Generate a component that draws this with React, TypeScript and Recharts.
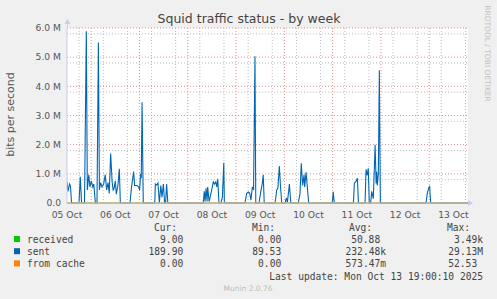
import { LineChart, Line, XAxis, YAxis, CartesianGrid } from "recharts"

// hours since 05 Oct 00:00, and sent traffic in Mbit/s
const hours = [
  0, 0.5, 1.24, 1.74, 2.24, 5.96, 6.6, 7.2, 7.45, 8.7, 9.6, 10.1, 10.8, 11.4, 12.1, 12.8, 13.3, 14.1, 14.9,
  15.6, 16.1, 16.7, 17.4, 18.2, 19.0, 19.7, 20.4, 21.0, 21.7, 22.4, 22.9, 23.4, 24.0, 24.5, 25.3, 26.0, 26.5,
  31.3, 32.0, 33.1, 33.6, 34.8, 35.6, 36.1, 36.6, 36.9, 37.3, 37.9,
  43.6, 43.9, 44.6, 45.2, 45.9, 46.6, 47.2, 47.9, 48.5, 49.0, 49.5, 50.1,
  67.7, 68.2, 68.6, 69.1, 69.6, 69.9, 70.6, 71.1, 71.9, 72.7, 73.2, 73.9, 74.4, 74.9, 75.5, 76.5, 77.2, 77.9, 78.2,
  88.4, 89.3, 90.1, 90.8, 91.4, 92.1, 92.7, 93.4, 93.8, 95.4, 96.3, 97.0, 97.5, 98.0,
  103.4, 104.2, 104.8, 105.5, 106.1, 106.7, 108.4, 109.0, 109.5, 110.2, 110.5, 111.2,
  114.9, 115.8, 116.4, 117.1, 117.8, 118.1, 118.8, 119.4, 120.1,
  131.8, 132.3, 132.8, 142.3, 142.8, 143.6, 144.3, 144.8,
  148.1, 148.6, 149.2, 149.7, 150.2, 150.9, 151.4, 152.2, 153.1, 153.6, 153.9, 154.2, 154.7, 155.2, 155.7,
  178.4, 179.0, 179.7, 180.2, 180.7, 199.25,
]
const sent = [
  0.73, 0.4, 0.65, 0.58, 0, 0, 0.9, 0.05, 0, 0, 5.89, 0.45, 0.97, 0.55, 0.75, 0.55, 0.65, 0, 0,
  5.5, 0.45, 0.7, 0.55, 0.65, 0.97, 0.45, 0.7, 0.33, 1.7, 0.75, 0.45, 0.5, 0.75, 0.3, 0.6, 1.17, 0,
  0, 0.5, 1.08, 0.6, 0.6, 0.55, 0.45, 1.0, 0.85, 3.45, 0,
  0, 0.65, 0.62, 0.68, 0, 0.6, 0.2, 0.65, 0, 0, 0.65, 0,
  0, 0.4, 0.05, 0.5, 0.05, 0.55, 0.05, 0.2, 0.45, 0.72, 0.65, 0.72, 0.55, 0.83, 0, 0, 0.2, 1.38, 0,
  0, 0.33, 0.38, 0.33, 0.1, 0.55, 0.45, 5.03, 0, 0, 0.4, 0.65, 0.97, 0,
  0, 0.45, 0.52, 1.27, 0.55, 0, 0, 0.18, 0.02, 0.45, 0.65, 0,
  0, 0.33, 1.36, 0.6, 0.97, 0.55, 1.05, 0.55, 0,
  0, 0.38, 0, 0, 0.68, 0.74, 0.85, 0,
  0, 1.15, 0.95, 1.19, 0, 0, 0.4, 0.15, 2.0, 0.67, 1.07, 0.6, 1.0, 4.55, 0,
  0, 0.33, 0.5, 0.58, 0, 0,
]
// received and from cache stay near zero at this scale
const flatHours = [0, 199.25]
const received = [0, 0]
const fromCache = [0, 0]

const dayTicks = [0, 24, 48, 72, 96, 120, 144, 168, 192]
const dayLabels = ["05 Oct", "06 Oct", "07 Oct", "08 Oct", "09 Oct", "10 Oct", "11 Oct", "12 Oct", "13 Oct"]
const yTicks = [0, 1, 2, 3, 4, 5, 6]

const legendLabels = ["received", "sent", "from cache"]
const legendColors = ["#00cc00", "#0066b3", "#ff8000"]
const curValues = ["9.00", "189.90", "0.00"]
const minValues = ["0.00", "89.53", "0.00"]
const avgValues = ["50.88", "232.48k", "573.47m"]
const maxValues = ["3.49k", "29.13M", "52.53"]

const sentData = hours.map((h, i) => ({ h, v: sent[i] }))
const receivedData = flatHours.map((h, i) => ({ h, v: received[i] }))
const cacheData = flatHours.map((h, i) => ({ h, v: fromCache[i] }))

const minorX: number[] = []
const majorX: number[] = []
for (let h = 6; h <= 198; h += 6) (h % 24 === 12 ? majorX : minorX).push(h)
const minorY: number[] = []
for (let k = 1; k <= 30; k++) if (k % 5 !== 0) minorY.push(k / 5)

const FONT = "'DejaVu Sans', sans-serif"
const MONO = "'DejaVu Sans Mono', monospace"
const CH = 5.8

// right edges of the legend columns (suffix position)
const colEnds = [189, 287, 386, 483]

function valueX(col: number, s: string) {
  const hasSuffix = /[a-zA-Z]$/.test(s)
  return hasSuffix ? colEnds[col] : colEnds[col] - CH
}

export default function App() {
  return (
    <div style={{ position: "absolute", left: 0, top: 0, width: 497, height: 299, background: "#f0f0f0" }}>
      <LineChart width={497} height={299} margin={{ top: 28, right: 29, bottom: 0, left: 0 }}>
        <CartesianGrid
          fill="#ffffff"
          stroke="#bdbdbd"
          strokeDasharray="1 2"
          verticalValues={minorX}
          horizontalValues={minorY}
        />
        <CartesianGrid
          stroke="#e09090"
          strokeDasharray="1 2"
          verticalValues={majorX}
          horizontalValues={[1, 2, 3, 4, 5, 6]}
        />
        <XAxis
          dataKey="h"
          type="number"
          domain={[0, 199.25]}
          ticks={dayTicks}
          tickFormatter={(v) => dayLabels[dayTicks.indexOf(v)] ?? ""}
          height={96}
          tickLine={false}
          tickSize={0}
          tickMargin={8}
          axisLine={{ stroke: "#c8cceb" }}
          tick={{ fill: "#555", fontSize: 9.2, fontFamily: FONT }}
          allowDataOverflow
        />
        <YAxis
          type="number"
          domain={[0, 6]}
          ticks={yTicks}
          tickFormatter={(v) => (v === 0 ? "0.0" : `${v.toFixed(1)} M`)}
          width={67}
          tickLine={false}
          tickSize={0}
          tickMargin={6}
          axisLine={{ stroke: "#c8cceb" }}
          tick={{ fill: "#555", fontSize: 9.2, fontFamily: FONT }}
        />
        <Line data={receivedData} dataKey="v" stroke="#00cc00" strokeWidth={1} dot={false} isAnimationActive={false} />
        <Line data={sentData} dataKey="v" stroke="#0066b3" strokeWidth={1.1} dot={false} isAnimationActive={false} />
        <Line data={cacheData} dataKey="v" stroke="#ff8000" strokeWidth={1} dot={false} isAnimationActive={false} />
      </LineChart>
      <svg width={497} height={299} style={{ position: "absolute", left: 0, top: 0, pointerEvents: "none" }}>
        <line x1={67.5} y1={28} x2={67.5} y2={23} stroke="#c8cceb" />
        <polygon points="64.5,24 70.5,24 67.5,19" fill="#c8cceb" />
        <polygon points="468,200 468,206 473,203" fill="#c8cceb" />
        <text x={249} y={23} textAnchor="middle" fontFamily={FONT} fontSize={12.5} fill="#444">
          Squid traffic status - by week
        </text>
        <text
          x={0}
          y={0}
          transform="translate(14,114.5) rotate(-90)"
          textAnchor="middle"
          fontFamily={FONT}
          fontSize={11}
          fill="#555"
        >
          bits per second
        </text>
        <text
          x={0}
          y={0}
          transform="translate(485,53.5) rotate(90)"
          textAnchor="middle"
          fontFamily={FONT}
          fontSize={7.5}
          fill="#c0c0c0"
        >
          RRDTOOL / TOBI OETIKER
        </text>
        <g fontFamily={MONO} fontSize={9.6} fill="#444">
          <text x={177} y={231} textAnchor="end">Cur:</text>
          <text x={275} y={231} textAnchor="end">Min:</text>
          <text x={372} y={231} textAnchor="end">Avg:</text>
          <text x={470} y={231} textAnchor="end">Max:</text>
          {legendLabels.map((label, i) => {
            const y = 243 + i * 12.2
            return (
              <g key={label}>
                <rect x={14} y={y - 7} width={6} height={6} fill={legendColors[i]} />
                <text x={27} y={y}>{label}</text>
                <text x={valueX(0, curValues[i])} y={y} textAnchor="end">{curValues[i]}</text>
                <text x={valueX(1, minValues[i])} y={y} textAnchor="end">{minValues[i]}</text>
                <text x={valueX(2, avgValues[i])} y={y} textAnchor="end">{avgValues[i]}</text>
                <text x={valueX(3, maxValues[i])} y={y} textAnchor="end">{maxValues[i]}</text>
              </g>
            )
          })}
          <text x={483} y={279.5} textAnchor="end">Last update: Mon Oct 13 19:00:10 2025</text>
        </g>
        <text x={248} y={290.5} textAnchor="middle" fontFamily={FONT} fontSize={7.5} fill="#bbb">
          Munin 2.0.76
        </text>
      </svg>
    </div>
  )
}
